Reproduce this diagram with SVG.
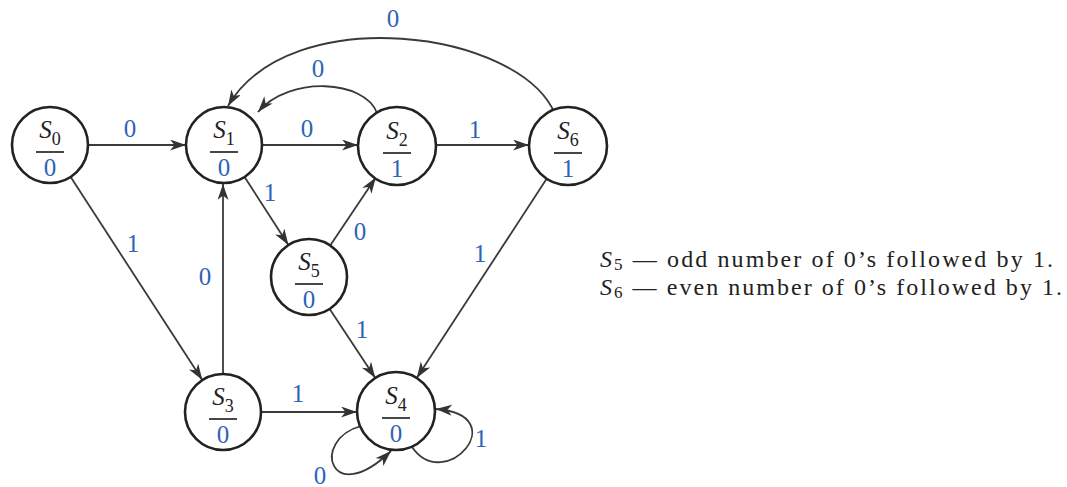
<svg xmlns="http://www.w3.org/2000/svg" width="1067" height="487" viewBox="0 0 1067 487">
<style>
.node circle{fill:#fff;stroke:#222;stroke-width:2.6}
.node line{stroke:#333;stroke-width:1.8}
.st{font-family:"Liberation Serif",serif;font-size:25px;fill:#222;text-anchor:middle}
.st .s{font-style:italic}
.sub{font-size:18px}
.out{font-family:"Liberation Serif",serif;font-size:25px;fill:#2e63b8;text-anchor:middle}
.edges path,.edges line{fill:none;stroke:#3a3a3a;stroke-width:1.8;marker-end:url(#arr)}
.lbl{font-family:"Liberation Serif",serif;font-size:25px;fill:#2e63b8;text-anchor:middle}
.legend{font-family:"Liberation Serif",serif;font-size:24px;fill:#222}
</style>
<defs>
<marker id="arr" markerUnits="userSpaceOnUse" markerWidth="17" markerHeight="12" refX="16" refY="5.5" orient="auto">
<path d="M0,0 L16,5.5 L0,11 L4.5,5.5 z" fill="#333"/>
</marker>
</defs>
<rect width="1067" height="487" fill="#fff"/>
<g class="edges">
<line x1="88" y1="145" x2="186" y2="145"/>
<line x1="262" y1="145" x2="358" y2="145"/>
<line x1="436" y1="145" x2="529" y2="145"/>
<path d="M555,114 C520,30 290,0 228,106"/>
<path d="M377,113 C365,80 290,75 258,112"/>
<line x1="244.6" y1="177" x2="288.4" y2="245"/>
<line x1="330.2" y1="245.5" x2="375.8" y2="177.5"/>
<line x1="70.7" y1="177" x2="202.3" y2="380"/>
<line x1="223" y1="374" x2="223" y2="184"/>
<line x1="261" y1="412" x2="357" y2="412"/>
<line x1="329.7" y1="308.9" x2="375.3" y2="378"/>
<line x1="547.3" y1="177.8" x2="416.7" y2="378"/>
<path d="M361,426 C310,440 330,510 391,451"/>
<path d="M412,447 C445,495 515,415 436,409"/>
</g>
<g class="labels">
<text class="lbl" x="130" y="137">0</text>
<text class="lbl" x="307" y="137">0</text>
<text class="lbl" x="475" y="138">1</text>
<text class="lbl" x="393" y="27">0</text>
<text class="lbl" x="318" y="77">0</text>
<text class="lbl" x="270" y="201">1</text>
<text class="lbl" x="133" y="252">1</text>
<text class="lbl" x="205" y="285">0</text>
<text class="lbl" x="360" y="240">0</text>
<text class="lbl" x="362" y="338">1</text>
<text class="lbl" x="480" y="262">1</text>
<text class="lbl" x="298" y="402">1</text>
<text class="lbl" x="320" y="484">0</text>
<text class="lbl" x="481" y="447">1</text>
</g>
<g id="S0" class="node">
<circle cx="50" cy="145" r="38"/>
<text class="st" x="50" y="138"><tspan class="s">S</tspan><tspan class="sub" dy="7">0</tspan></text>
<line x1="36" y1="152" x2="64" y2="152"/>
<text class="out" x="50" y="176">0</text>
</g>
<g id="S1" class="node">
<circle cx="224" cy="145" r="38"/>
<text class="st" x="224" y="138"><tspan class="s">S</tspan><tspan class="sub" dy="7">1</tspan></text>
<line x1="210" y1="152" x2="238" y2="152"/>
<text class="out" x="224" y="176">0</text>
</g>
<g id="S2" class="node">
<circle cx="397" cy="146" r="39"/>
<text class="st" x="397" y="139"><tspan class="s">S</tspan><tspan class="sub" dy="7">2</tspan></text>
<line x1="383" y1="153" x2="411" y2="153"/>
<text class="out" x="397" y="177">1</text>
</g>
<g id="S6" class="node">
<circle cx="568" cy="146" r="39"/>
<text class="st" x="568" y="139"><tspan class="s">S</tspan><tspan class="sub" dy="7">6</tspan></text>
<line x1="554" y1="153" x2="582" y2="153"/>
<text class="out" x="568" y="177">1</text>
</g>
<g id="S5" class="node">
<circle cx="309" cy="277" r="38"/>
<text class="st" x="309" y="270"><tspan class="s">S</tspan><tspan class="sub" dy="7">5</tspan></text>
<line x1="295" y1="284" x2="323" y2="284"/>
<text class="out" x="309" y="308">0</text>
</g>
<g id="S3" class="node">
<circle cx="223" cy="412" r="38"/>
<text class="st" x="223" y="405"><tspan class="s">S</tspan><tspan class="sub" dy="7">3</tspan></text>
<line x1="209" y1="419" x2="237" y2="419"/>
<text class="out" x="223" y="443">0</text>
</g>
<g id="S4" class="node">
<circle cx="396" cy="411" r="39"/>
<text class="st" x="396" y="404"><tspan class="s">S</tspan><tspan class="sub" dy="7">4</tspan></text>
<line x1="382" y1="418" x2="410" y2="418"/>
<text class="out" x="396" y="442">0</text>
</g>
<g id="legend" class="legend">
<text x="600" y="267" textLength="453" lengthAdjust="spacing"><tspan font-style="italic">S</tspan><tspan font-size="17" dy="3">5</tspan><tspan dy="-3"> — odd number of 0’s followed by 1.</tspan></text>
<text x="600" y="295" textLength="462" lengthAdjust="spacing"><tspan font-style="italic">S</tspan><tspan font-size="17" dy="3">6</tspan><tspan dy="-3"> — even number of 0’s followed by 1.</tspan></text>
</g>
</svg>
